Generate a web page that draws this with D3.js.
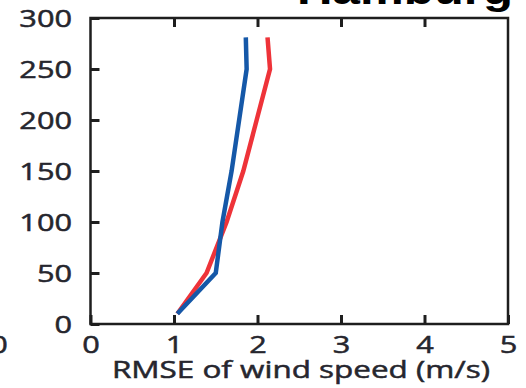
<!DOCTYPE html>
<html>
<head>
<meta charset="utf-8">
<script src="https://cdn.jsdelivr.net/npm/d3@7"></script>
<style>
body { margin: 0; background: #fff; }
text { font-family: "Open Sans", sans-serif; fill: #26262e; stroke: #26262e; stroke-width: 0.5px; }
</style>
</head>
<body>
<div class="chart"></div>
<script>
// heights (m) and RMSE of wind speed (m/s) for the two runs
var heights = [10, 50, 100, 150, 200, 250, 281];
var rmseRed = [1.04, 1.39, 1.63, 1.83, 1.99, 2.15, 2.12];
var rmseBlue = [1.04, 1.50, 1.58, 1.69, 1.78, 1.87, 1.86];
var xTicks = [0, 1, 2, 3, 4, 5];
var yTicks = [0, 50, 100, 150, 200, 250, 300];
var title = "Hamburg";
var xTitle = "RMSE of wind speed (m/s)";

var width = 526, height = 388;
var sx = 1.28; // the picture is stretched sideways

var svg = d3.select(".chart").append("svg")
	.attr("width", width)
	.attr("height", height);

var x = d3.scaleLinear().domain([0, 5]).range([90.5, 508]);
var y = d3.scaleLinear().domain([0, 300]).range([324, 18]);

// bottom axis
var gx = svg.append("g")
	.attr("transform", "translate(0," + y(0) + ")")
	.call(d3.axisBottom(x).tickValues(xTicks).tickFormat(d3.format("d"))
		.tickSizeInner(-9).tickSizeOuter(0).tickPadding(0));
// top axis, ticks only
var gt = svg.append("g")
	.attr("transform", "translate(0," + y(300) + ")")
	.call(d3.axisTop(x).tickValues([1, 2, 3, 4]).tickSizeInner(-9).tickSizeOuter(0).tickFormat(""));
// left axis
var gy = svg.append("g")
	.attr("transform", "translate(" + x(0) + ",0)")
	.call(d3.axisLeft(y).tickValues(yTicks).tickSizeInner(-9).tickSizeOuter(0));

svg.selectAll(".domain").remove();
svg.selectAll(".tick line").attr("stroke", "#1e1e1e").attr("stroke-width", 3);

gx.selectAll(".tick text")
	.attr("y", 0).attr("dy", 29)
	.attr("transform", "scale(" + sx + ",1)")
	.style("font-size", "24px");
gy.selectAll(".tick text")
	.attr("x", -18.5 / sx).attr("dy", "0.36em")
	.attr("transform", "scale(" + sx + ",1)")
	.style("font-size", "24px");

// frame
svg.append("rect")
	.attr("x", x(0)).attr("y", y(300))
	.attr("width", x(5) - x(0)).attr("height", y(0) - y(300))
	.attr("fill", "none")
	.attr("stroke", "#1e1e1e")
	.attr("stroke-width", 2.5);

var line = d3.line()
	.x(function(d) { return x(d[0]); })
	.y(function(d) { return y(d[1]); });

svg.append("path")
	.datum(d3.zip(rmseRed, heights))
	.attr("d", line)
	.attr("fill", "none")
	.attr("stroke", "#ee3339")
	.attr("stroke-width", 4.5);

svg.append("path")
	.datum(d3.zip(rmseBlue, heights))
	.attr("d", line)
	.attr("fill", "none")
	.attr("stroke", "#1558a8")
	.attr("stroke-width", 4.5);

// axis title
svg.append("text")
	.attr("transform", "translate(301,378) scale(1.31,1)")
	.attr("text-anchor", "middle")
	.style("font-size", "24px")
	.text(xTitle);

// leftover of the neighbouring panel
svg.append("text")
	.attr("transform", "translate(-1,353) scale(" + sx + ",1)")
	.attr("text-anchor", "middle")
	.style("font-size", "24px")
	.text("0");

// panel title, cut by the top edge
svg.append("text")
	.attr("transform", "translate(513,4) scale(1.23,1)")
	.attr("text-anchor", "end")
	.style("font-family", "'Liberation Sans', Arial, sans-serif")
	.style("font-weight", "bold")
	.style("font-size", "40px")
	.style("fill", "#000")
	.style("stroke", "none")
	.text(title);
</script>
</body>
</html>
